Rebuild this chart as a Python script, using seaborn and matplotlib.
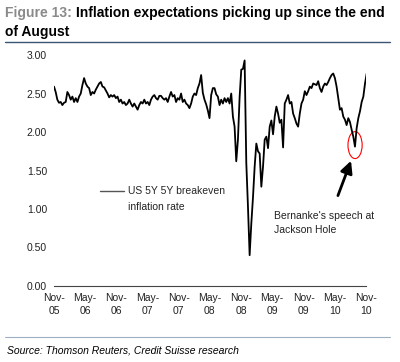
import seaborn as sns
import matplotlib.pyplot as plt
import matplotlib.dates as mdates
from matplotlib.patches import Ellipse
import pandas as pd

# US 5Y5Y breakeven inflation rate (roughly every 10 days)
start_date = "2005-11-01"
end_date = "2010-11-05"
breakeven = [
    2.59, 2.52, 2.42, 2.38, 2.39, 2.35, 2.38, 2.39, 2.52, 2.48,
    2.42, 2.46, 2.39, 2.44, 2.39, 2.46, 2.50, 2.61, 2.70, 2.63,
    2.59, 2.57, 2.48, 2.52, 2.50, 2.55, 2.59, 2.63, 2.65, 2.59,
    2.58, 2.54, 2.50, 2.45, 2.48, 2.46, 2.48, 2.44, 2.46, 2.39,
    2.42, 2.37, 2.39, 2.35, 2.37, 2.42, 2.37, 2.33, 2.37, 2.33,
    2.29, 2.35, 2.39, 2.37, 2.42, 2.37, 2.39, 2.35, 2.42, 2.46,
    2.48, 2.44, 2.42, 2.47, 2.47, 2.44, 2.42, 2.44, 2.39, 2.46,
    2.52, 2.46, 2.48, 2.39, 2.44, 2.42, 2.50, 2.39, 2.42, 2.37,
    2.35, 2.31, 2.37, 2.46, 2.50, 2.48, 2.57, 2.63, 2.74, 2.51,
    2.42, 2.36, 2.28, 2.18, 2.48, 2.57, 2.57, 2.49, 2.46, 2.35,
    2.42, 2.37, 2.44, 2.39, 2.44, 2.37, 2.50, 2.20, 2.07, 1.62,
    1.90, 2.45, 2.81, 2.82, 2.93, 1.60, 1.03, 0.40, 0.81, 1.15,
    1.55, 1.85, 1.75, 1.72, 1.29, 1.55, 1.90, 1.94, 1.79, 2.07,
    2.15, 1.97, 2.20, 2.33, 2.24, 2.12, 2.16, 1.80, 2.37, 2.42,
    2.48, 2.37, 2.39, 2.24, 2.18, 2.11, 2.07, 2.24, 2.37, 2.42,
    2.53, 2.48, 2.53, 2.59, 2.57, 2.63, 2.62, 2.61, 2.66, 2.57,
    2.52, 2.59, 2.63, 2.61, 2.65, 2.70, 2.74, 2.76, 2.70, 2.59,
    2.44, 2.29, 2.31, 2.20, 2.16, 2.09, 2.18, 2.13, 2.03, 1.94,
    1.81, 2.05, 2.18, 2.27, 2.39, 2.46, 2.63, 2.76,
]
tick_dates = pd.date_range("2005-11-01", "2010-11-01", freq="6MS")
tick_labels = [d.strftime("%b-\n%y") for d in tick_dates]
y_ticks = [0.0, 0.5, 1.0, 1.5, 2.0, 2.5, 3.0]

df = pd.DataFrame({
    "date": pd.date_range(start_date, end_date, periods=len(breakeven)),
    "rate": breakeven,
})

sns.set_theme(style="white")
plt.rcParams["font.family"] = ["Liberation Sans", "DejaVu Sans"]

fig = plt.figure(figsize=(4.0, 3.62), dpi=100)
ax = fig.add_axes([0.135, 0.21, 0.78, 0.638])

sns.lineplot(data=df, x="date", y="rate", ax=ax, color="black", linewidth=1.3,
             label="US 5Y 5Y breakeven")

ax.set_xlim(tick_dates[0], tick_dates[-1])
ax.set_ylim(0, 3)
ax.set_xticks(tick_dates)
ax.set_xticklabels(tick_labels, fontsize=7.5, color="#222222", linespacing=1.35)
ax.set_yticks(y_ticks)
ax.set_yticklabels([f"{v:.2f}" for v in y_ticks], fontsize=7.5, color="#222222")
ax.set_xlabel("")
ax.set_ylabel("")
for s in ["left", "top", "right"]:
    ax.spines[s].set_visible(False)
ax.spines["bottom"].set_color("#444444")
ax.spines["bottom"].set_linewidth(0.8)
ax.tick_params(axis="x", direction="inout", length=4, width=0.8, color="#444444", pad=3)
ax.tick_params(axis="y", length=0, pad=5)

leg = ax.legend(loc="upper left", bbox_to_anchor=(0.135, 0.45), frameon=False,
                fontsize=7.5, handlelength=2.3, handletextpad=0.35, borderaxespad=0)
for line in leg.get_lines():
    line.set_color("#555555")
    line.set_linewidth(1.0)
ax.annotate("inflation rate", xy=(0, 0), xycoords=leg.get_texts()[0],
            xytext=(0, -4), textcoords="offset points", va="top", ha="left",
            fontsize=7.5, color="#222222", zorder=10)

# Jackson Hole annotation
ax.text(pd.Timestamp("2009-05-12"), 0.98, "Bernanke's speech at\nJackson Hole",
        fontsize=7.5, va="top", ha="left", color="#222222", linespacing=1.5)
ax.annotate("", xy=(pd.Timestamp("2010-08-11"), 1.66),
            xytext=(pd.Timestamp("2010-05-15"), 1.14),
            arrowprops=dict(arrowstyle="-|>,head_length=0.6,head_width=0.3",
                            color="black", lw=2))
circle_w = mdates.date2num(pd.Timestamp("2010-10-11")) - mdates.date2num(pd.Timestamp("2010-07-20"))
ax.add_patch(Ellipse((mdates.date2num(pd.Timestamp("2010-08-29")), 1.83),
                     width=circle_w, height=0.35, fill=False, edgecolor="red", lw=0.8))

# title, rules and source
t1 = fig.text(0.0125, 0.965, "Figure 13: ", fontsize=10, fontweight="bold",
              color="#8a8a8a", va="center")
ax.annotate("Inflation expectations picking up since the end", xy=(1, 0.5),
            xycoords=t1, va="center", ha="left", fontsize=10, fontweight="bold",
            color="black", annotation_clip=False)
fig.text(0.0125, 0.912, "of August", fontsize=10, fontweight="bold", color="black",
         va="center")
fig.add_artist(plt.Line2D([0.0125, 0.975], [0.884, 0.884], color="#3b5675", lw=1.0))
fig.add_artist(plt.Line2D([0.0125, 0.975], [0.069, 0.069], color="#9db0c4", lw=0.8))
fig.text(0.0175, 0.033, "Source: Thomson Reuters, Credit Suisse research", fontsize=7.5,
         style="italic", color="black", va="center")

fig.savefig("out.png", dpi=100, facecolor="white")
